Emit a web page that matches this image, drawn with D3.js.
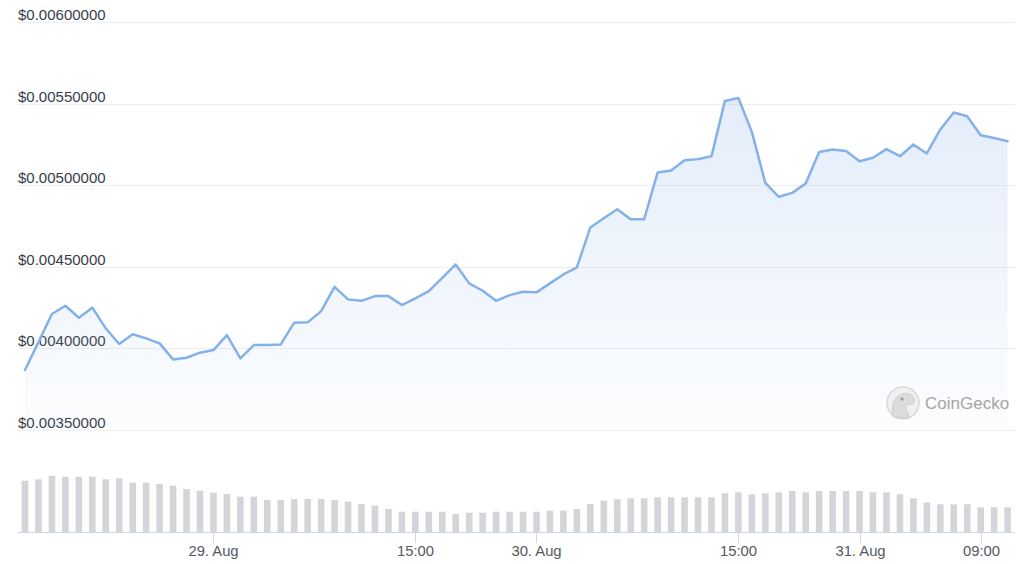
<!DOCTYPE html>
<html>
<head>
<meta charset="utf-8">
<script src="https://cdn.jsdelivr.net/npm/d3@7"></script>
<style>
  html, body { margin: 0; padding: 0; background: #ffffff; }
  svg { display: block; font-family: "Liberation Sans", Arial, sans-serif; }
</style>
</head>
<body>
<svg id="chart" width="1024" height="564"></svg>
<script>
// ---- Data (hourly, UTC) ----
const startTime = Date.UTC(2023, 7, 28, 10, 0); // 28 Aug 10:00
const prices = [
  0.003868, 0.004039, 0.004211, 0.004262, 0.004188, 0.004250, 0.004123, 0.004027,
  0.004087, 0.004062, 0.004031, 0.003933, 0.003943, 0.003974, 0.003990, 0.004082,
  0.003939, 0.004021, 0.004021, 0.004025, 0.004158, 0.004160, 0.004229, 0.004378,
  0.004301, 0.004292, 0.004321, 0.004321, 0.004266, 0.004307, 0.004352, 0.004433,
  0.004515, 0.004399, 0.004354, 0.004292, 0.004327, 0.004348, 0.004344, 0.004399,
  0.004454, 0.004497, 0.004742, 0.004799, 0.004854, 0.004793, 0.004793, 0.005079,
  0.005091, 0.005154, 0.005161, 0.005179, 0.005518, 0.005536, 0.005328, 0.005015,
  0.004930, 0.004954, 0.005012, 0.005205, 0.005220, 0.005211, 0.005148, 0.005169,
  0.005222, 0.005179, 0.005251, 0.005196, 0.005343, 0.005447, 0.005424, 0.005308,
  0.005291, 0.005271
];
// volumes in thousand USD (estimated)
const volumes = [
  513, 527, 563, 553, 553, 553, 527, 537, 493, 493, 480, 463, 430, 413, 393, 380,
  353, 353, 320, 320, 330, 330, 330, 320, 303, 280, 263, 230, 203, 203, 203, 203,
  180, 193, 193, 203, 203, 203, 203, 213, 213, 230, 280, 313, 327, 337, 337, 347,
  347, 347, 347, 347, 387, 397, 377, 387, 397, 410, 397, 410, 410, 410, 410, 397,
  397, 377, 337, 297, 277, 277, 277, 247, 247, 247
];
const yTickValues = [0.0035, 0.004, 0.0045, 0.005, 0.0055, 0.006];
const xTickDates = [
  Date.UTC(2023, 7, 29, 0), Date.UTC(2023, 7, 29, 15), Date.UTC(2023, 7, 30, 0),
  Date.UTC(2023, 7, 30, 15), Date.UTC(2023, 7, 31, 0), Date.UTC(2023, 7, 31, 9)
];
const xTickLabels = ["29. Aug", "15:00", "30. Aug", "15:00", "31. Aug", "09:00"];

const HOUR = 3600 * 1000;
const data = prices.map((p, i) => ({ t: new Date(startTime + i * HOUR), p, v: volumes[i] }));

// ---- Scales ----
const svg = d3.select("#chart");
const x = d3.scaleUtc()
  .domain([new Date(startTime), new Date(startTime + (prices.length - 1) * HOUR)])
  .range([25, 1007.6]);
const y = d3.scaleLinear().domain([0.0035, 0.006]).range([430, 22.3]);
const yv = d3.scaleLinear().domain([0, 1000]).range([532, 432]);

// ---- Gridlines ----
const grid = svg.append("g");
grid.selectAll("line").data(yTickValues).join("line")
  .attr("x1", 18).attr("x2", 1015)
  .attr("y1", d => Math.round(y(d)) + 0.5).attr("y2", d => Math.round(y(d)) + 0.5)
  .attr("stroke", "#eceef1").attr("stroke-width", 1);

// ---- Area gradient ----
const defs = svg.append("defs");
const grad = defs.append("linearGradient").attr("id", "areaGrad")
  .attr("x1", 0).attr("y1", 0).attr("x2", 0).attr("y2", 1);
grad.append("stop").attr("offset", "0%").attr("stop-color", "#8cb4ea").attr("stop-opacity", 0.24);
grad.append("stop").attr("offset", "100%").attr("stop-color", "#8cb4ea").attr("stop-opacity", 0.03);

const area = d3.area().x(d => x(d.t)).y0(y(0.0035)).y1(d => y(d.p));
svg.append("path").datum(data).attr("d", area).attr("fill", "url(#areaGrad)");

const line = d3.line().x(d => x(d.t)).y(d => y(d.p));
svg.append("path").datum(data).attr("d", line)
  .attr("fill", "none").attr("stroke", "#85b1ea").attr("stroke-width", 2.5)
  .attr("stroke-linejoin", "round").attr("stroke-linecap", "round");

// ---- Y labels ----
grid.selectAll("text").data(yTickValues).join("text")
  .attr("x", 18).attr("y", d => y(d) - 2)
  .attr("font-size", 15).attr("fill", "#363d4a")
  .text(d => "$" + d3.format(".8f")(d));

// ---- Volume bars ----
const barW = 6.6;
svg.append("g").selectAll("rect").data(data).join("rect")
  .attr("x", d => x(d.t) - barW / 2)
  .attr("width", barW)
  .attr("y", d => yv(d.v))
  .attr("height", d => yv(0) - yv(d.v))
  .attr("fill", "#d3d5d9");

// ---- X axis ----
const xAxis = svg.append("g");
xAxis.append("line").attr("x1", 18).attr("x2", 1015).attr("y1", 532.5).attr("y2", 532.5)
  .attr("stroke", "#ccd6eb").attr("stroke-width", 1);
const ticks = xAxis.selectAll("g.tick").data(xTickDates.map((d, i) => ({ d: new Date(d), label: xTickLabels[i] })))
  .join("g").attr("class", "tick")
  .attr("transform", d => `translate(${Math.round(x(d.d)) + 0.5},0)`);
ticks.append("line").attr("y1", 532).attr("y2", 543).attr("stroke", "#ccd6eb");
ticks.append("text").attr("y", 555.5).attr("text-anchor", "middle")
  .attr("font-size", 14.8).attr("fill", "#54595f").text(d => d.label);

// ---- Watermark ----
const wm = svg.append("g").attr("opacity", 0.9);
wm.append("circle").attr("cx", 903).attr("cy", 403).attr("r", 16)
  .attr("fill", "#efefef").attr("stroke", "#d4d4d4").attr("stroke-width", 1.5);
wm.append("path")
  .attr("d", "M893,417 C891,408 893,397 902,394 C908,392 913,395 914,399 C915,402 913,404 910,404 C906,404 905,407 907,411 C908,414 909,416 909,418 Z")
  .attr("fill", "#d9d9d9").attr("stroke", "#c8c8c8").attr("stroke-width", 1);
wm.append("circle").attr("cx", 902).attr("cy", 399).attr("r", 1.8).attr("fill", "#9a9a9a");
wm.append("text").attr("x", 925).attr("y", 409).attr("font-size", 17).attr("fill", "#9b9b9b")
  .text("CoinGecko");
</script>
</body>
</html>
